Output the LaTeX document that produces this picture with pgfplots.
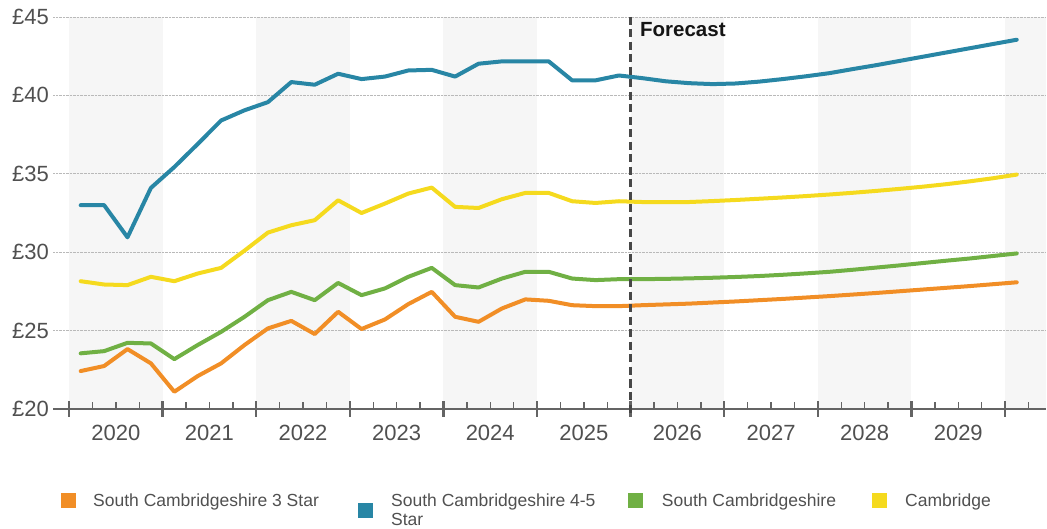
\documentclass[border=0pt]{standalone}
\usepackage{fontspec}
\setmainfont{Liberation Sans}
\usepackage{pgfplots}
\usepackage{pgfplotstable}
\pgfplotsset{compat=1.18}

\definecolor{c3}{RGB}{241,142,38}
\definecolor{c45}{RGB}{40,134,165}
\definecolor{csc}{RGB}{112,176,68}
\definecolor{ccam}{RGB}{245,218,30}
\definecolor{band}{RGB}{246,246,246}
\definecolor{gridc}{RGB}{185,185,185}
\definecolor{axc}{RGB}{100,100,100}
\definecolor{txt}{RGB}{80,80,80}

% x = quarter index (0 = 2020 Q1 start), points at quarter midpoints
\pgfplotstableread{
x    o     b     g     y
0.5  22.42 33.00 23.55 28.15
1.5  22.74 33.00 23.69 27.94
2.5  23.82 30.95 24.22 27.90
3.5  22.91 34.10 24.18 28.43
4.5  21.10 35.43 23.18 28.15
5.5  22.10 36.90 24.08 28.64
6.5  22.91 38.40 24.92 29.00
7.5  24.08 39.05 25.88 30.10
8.5  25.14 39.57 26.94 31.25
9.5  25.62 40.85 27.47 31.72
10.5 24.78 40.68 26.94 32.04
11.5 26.20 41.38 28.04 33.31
12.5 25.10 41.04 27.26 32.50
13.5 25.71 41.20 27.69 33.10
14.5 26.69 41.59 28.43 33.74
15.5 27.47 41.63 29.00 34.12
16.5 25.88 41.20 27.90 32.89
17.5 25.56 42.02 27.75 32.82
18.5 26.41 42.17 28.32 33.38
19.5 26.99 42.17 28.75 33.78
20.5 26.90 42.17 28.75 33.78
21.5 26.62 40.96 28.32 33.25
22.5 26.56 40.96 28.22 33.14
23.5 26.56 41.27 28.28 33.25
24.5 26.62 41.10 28.28 33.20
25.5 26.67 40.90 28.30 33.20
26.5 26.72 40.78 28.33 33.20
27.5 26.79 40.72 28.37 33.26
28.5 26.86 40.76 28.42 33.33
29.5 26.94 40.88 28.48 33.41
30.5 27.02 41.04 28.56 33.49
31.5 27.11 41.22 28.65 33.58
32.5 27.20 41.42 28.75 33.68
33.5 27.30 41.68 28.88 33.79
34.5 27.40 41.93 29.02 33.91
35.5 27.51 42.20 29.16 34.04
36.5 27.62 42.47 29.31 34.18
37.5 27.73 42.74 29.46 34.34
38.5 27.84 43.01 29.60 34.52
39.5 27.96 43.28 29.76 34.72
40.5 28.08 43.55 29.92 34.95
}\data

\begin{document}
\begin{tikzpicture}
\begin{axis}[
  at={(53bp,120bp)}, anchor=south west,
  scale only axis, width=993bp, height=392bp,
  xmin=-0.684, xmax=41.75, ymin=20, ymax=45,
  clip=false, set layers,
  axis x line*=bottom, axis y line*=left,
  y axis line style={draw=none},
  x axis line style={-, draw=axc, line width=2.5bp},
  ytick={20,25,30,35,40,45},
  yticklabels={£20,£25,£30,£35,£40,£45},
  ytick style={draw=none},
  yticklabel style={font=\fontsize{22bp}{26bp}\selectfont, text=txt, inner sep=0pt, anchor=east, xshift=4bp},
  ymajorgrids, grid style={gridc, densely dotted, line width=0.9bp},
  xtick={0,4,8,12,16,20,24,28,32,36,40},
  xticklabels={,,,,,,,,,,},
  minor xtick={0,1,...,41},
  tick align=center, major tick length=16bp, minor tick length=7bp,
  major tick style={axc, line width=2.5bp},
  minor tick style={axc, line width=1.4bp, yshift=3.5bp},
  extra x ticks={2,6,10,14,18,22,26,30,34,38},
  extra x tick labels={2020,2021,2022,2023,2024,2025,2026,2027,2028,2029},
  extra x tick style={major tick length=0pt},
  xticklabel style={font=\fontsize{22bp}{26bp}\selectfont, text=txt, inner sep=0pt, anchor=north, yshift=-16bp},
]
\begin{pgfonlayer}{axis background}
\fill[band] (axis cs:0,20) rectangle (axis cs:4,45);
\fill[band] (axis cs:8,20) rectangle (axis cs:12,45);
\fill[band] (axis cs:16,20) rectangle (axis cs:20,45);
\fill[band] (axis cs:24,20) rectangle (axis cs:28,45);
\fill[band] (axis cs:32,20) rectangle (axis cs:36,45);
\fill[band] (axis cs:40,20) rectangle (axis cs:41.75,45);
\end{pgfonlayer}

\addplot[ccam, line width=4bp, line join=round, line cap=round] table[x=x,y=y]{\data};
\addplot[csc, line width=4bp, line join=round, line cap=round] table[x=x,y=g]{\data};
\addplot[c3, line width=4bp, line join=round, line cap=round] table[x=x,y=o]{\data};
\addplot[c45, line width=4bp, line join=round, line cap=round] table[x=x,y=b]{\data};

\draw[black!72, line width=2.5bp, dash pattern=on 8bp off 4.5bp] (axis cs:24,45) -- ([yshift=-8bp]axis cs:24,20);
\node[anchor=base west, inner sep=0pt, font=\fontsize{20.5bp}{24bp}\selectfont\bfseries, text=black!92] at ([xshift=9.3bp,yshift=-19.7bp]axis cs:24,45) {Forecast};
\end{axis}

\tikzset{legtxt/.style={anchor=base west, inner sep=0pt, font=\fontsize{17.5bp}{21bp}\selectfont, text=txt}}
\fill[c3] (60.7bp,21bp) rectangle ++(15bp,15bp);
\node[legtxt] at (93bp,22.3bp) {South Cambridgeshire 3 Star};
\fill[c45] (358bp,11bp) rectangle ++(15bp,15bp);
\node[legtxt] at (391bp,22.3bp) {South Cambridgeshire 4-5};
\node[legtxt] at (391bp,4bp) {Star};
\fill[csc] (628bp,21bp) rectangle ++(15bp,15bp);
\node[legtxt] at (661.7bp,22.3bp) {South Cambridgeshire};
\fill[ccam] (871.7bp,21bp) rectangle ++(15bp,15bp);
\node[legtxt] at (905bp,22.3bp) {Cambridge};

\pgfresetboundingbox
\path[use as bounding box] (0,0) rectangle (1047bp,529bp);
\end{tikzpicture}
\end{document}
